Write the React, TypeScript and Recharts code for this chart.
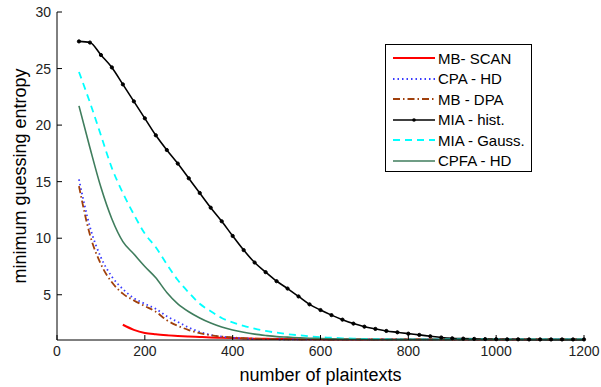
import { Line, LineChart, XAxis, YAxis, Label } from "recharts";

const xs = [
  50, 75, 100, 125, 150, 175, 200, 225, 250, 275, 300, 325, 350, 375, 400, 425,
  450, 475, 500, 525, 550, 575, 600, 625, 650, 675, 700, 725, 750, 775, 800,
  825, 850, 875, 900, 925, 950, 975, 1000, 1025, 1050, 1075, 1100, 1125, 1150,
  1175, 1200,
];

const mbScan = [
  null, null, null, null, 2.35, 1.9, 1.62, 1.5, 1.42, 1.36, 1.31, 1.27, 1.23,
  1.2, 1.17, 1.14, 1.12, 1.1, 1.09, 1.08, 1.07, 1.06, 1.06, 1.05, 1.05, 1.05,
  1.05, 1.05, 1.05, 1.05, 1.05, 1.05, 1.05, 1.05, 1.05, 1.05, 1.05, 1.05, 1.05,
  1.05, 1.05, 1.05, 1.05, 1.05, 1.05, 1.05, 1.05,
];

const cpaHd = [
  15.2, 11.0, 8.3, 6.6, 5.5, 4.7, 4.2, 3.75, 3.1, 2.6, 2.1, 1.72, 1.45, 1.3,
  1.2, 1.15, 1.1, 1.08, 1.07, 1.05, 1.05, 1.05, 1.05, 1.05, 1.05, 1.05, 1.05,
  1.05, 1.05, 1.05, 1.05, 1.05, 1.05, 1.05, 1.05, 1.05, 1.05, 1.05, 1.05, 1.05,
  1.05, 1.05, 1.05, 1.05, 1.05, 1.05, 1.05,
];

const mbDpa = [
  14.6, 10.3, 7.7, 6.1, 5.1, 4.5, 4.0, 3.5, 2.75, 2.25, 1.88, 1.6, 1.42, 1.3,
  1.22, 1.16, 1.12, 1.09, 1.07, 1.05, 1.05, 1.05, 1.05, 1.05, 1.05, 1.05, 1.05,
  1.05, 1.05, 1.05, 1.05, 1.05, 1.05, 1.05, 1.05, 1.05, 1.05, 1.05, 1.05, 1.05,
  1.05, 1.05, 1.05, 1.05, 1.05, 1.05, 1.05,
];

const miaHist = [
  27.4, 27.3, 26.2, 25.1, 23.6, 22.1, 20.6, 19.1, 17.8, 16.6, 15.3, 14.0, 12.7,
  11.5, 10.2, 8.95, 7.85, 7.0, 6.2, 5.55, 4.85, 4.15, 3.65, 3.2, 2.8, 2.45,
  2.18, 1.98, 1.8, 1.68, 1.56, 1.45, 1.33, 1.22, 1.15, 1.12, 1.1, 1.08, 1.07,
  1.06, 1.06, 1.05, 1.05, 1.05, 1.05, 1.05, 1.05,
];

const miaGauss = [
  24.7, 22.0, 19.1, 16.2, 14.0, 12.1, 10.4, 9.2, 7.7, 6.3, 5.2, 4.2, 3.55,
  2.95, 2.55, 2.25, 2.0, 1.8, 1.65, 1.52, 1.42, 1.33, 1.25, 1.2, 1.15, 1.12,
  1.1, 1.08, 1.07, 1.05, 1.05, 1.05, 1.05, 1.05, 1.05, 1.05, 1.05, 1.05, 1.05,
  1.05, 1.05, 1.05, 1.05, 1.05, 1.05, 1.05, 1.05,
];

const cpfaHd = [
  21.7, 18.0, 14.5, 11.7, 9.7, 8.6, 7.5, 6.5, 5.2, 4.2, 3.5, 2.95, 2.5, 2.15,
  1.88, 1.68, 1.52, 1.4, 1.3, 1.25, 1.2, 1.16, 1.13, 1.1, 1.08, 1.07, 1.06,
  1.04, 1.04, 1.04, 1.04, 1.04, 1.04, 1.04, 1.04, 1.04, 1.04, 1.04, 1.04, 1.04,
  1.04, 1.04, 1.04, 1.04, 1.04, 1.04, 1.04,
];

const xTicks = [0, 200, 400, 600, 800, 1000, 1200];
const yTicks = [5, 10, 15, 20, 25, 30];

const data = xs.map((x, i) => ({
  x,
  mbScan: mbScan[i],
  cpaHd: cpaHd[i],
  mbDpa: mbDpa[i],
  miaHist: miaHist[i],
  miaGauss: miaGauss[i],
  cpfaHd: cpfaHd[i],
}));

const series = [
  { key: "mbScan", name: "MB- SCAN", color: "#ff0000", width: 2, dash: undefined },
  { key: "cpaHd", name: "CPA - HD", color: "#3a3aff", width: 1.8, dash: "1.5 3" },
  { key: "mbDpa", name: "MB - DPA", color: "#a0400c", width: 1.8, dash: "7 3 1.5 3" },
  { key: "miaHist", name: "MIA - hist.", color: "#000000", width: 1.6, dash: undefined },
  { key: "miaGauss", name: "MIA - Gauss.", color: "#00ffff", width: 1.8, dash: "7 5" },
  { key: "cpfaHd", name: "CPFA - HD", color: "#3f7d5d", width: 1.6, dash: undefined },
];

const font = "Arial, 'Liberation Sans', sans-serif";

function ChartLegend() {
  return (
    <div
      style={{
        position: "absolute",
        left: 385,
        top: 44,
        width: 147,
        height: 128,
        border: "1px solid #000",
        background: "#fff",
        fontFamily: font,
        fontSize: 15,
        color: "#000",
        boxSizing: "border-box",
        paddingTop: 3,
      }}
    >
      {series.map((s) => (
        <div key={s.key} style={{ display: "flex", alignItems: "center", height: 20.5 }}>
          <svg width={48} height={10} style={{ marginLeft: 5 }}>
            <line
              x1={2}
              x2={44}
              y1={5}
              y2={5}
              stroke={s.color}
              strokeWidth={s.width}
              strokeDasharray={s.dash}
            />
            {s.key === "miaHist" && <circle cx={23} cy={5} r={1.8} fill="#000" />}
          </svg>
          <span style={{ marginLeft: -1 }}>{s.name}</span>
        </div>
      ))}
    </div>
  );
}

export default function App() {
  return (
    <div style={{ position: "fixed", left: 0, top: 0, width: 601, height: 387, background: "#fff" }}>
      <LineChart
        width={601}
        height={387}
        data={data}
        margin={{ top: 12, right: 17, bottom: 0, left: 0 }}
      >
        <XAxis
          dataKey="x"
          type="number"
          domain={[0, 1200]}
          ticks={xTicks}
          tickSize={-5}
          tickMargin={11}
          height={47}
          stroke="#000"
          tick={{ fill: "#222", fontSize: 14, fontFamily: font }}
          interval={0}
        >
          <Label
            value="number of plaintexts"
            position="insideBottom"
            offset={6}
            style={{ fill: "#000", fontSize: 18, fontFamily: font }}
          />
        </XAxis>
        <XAxis
          xAxisId="top"
          dataKey="x"
          type="number"
          orientation="top"
          domain={[0, 1200]}
          ticks={xTicks}
          tickSize={-5}
          height={0}
          tick={false}
          stroke="#000"
        />
        <YAxis
          type="number"
          domain={[1, 30]}
          ticks={yTicks}
          tickSize={-5}
          tickMargin={11}
          width={57}
          stroke="#000"
          tick={{ fill: "#222", fontSize: 14, fontFamily: font }}
          interval={0}
        >
          <Label
            value="minimum guessing entropy"
            angle={-90}
            position="insideLeft"
            offset={20}
            style={{ textAnchor: "middle", fill: "#000", fontSize: 18, fontFamily: font }}
          />
        </YAxis>
        <YAxis
          yAxisId="right"
          type="number"
          orientation="right"
          domain={[1, 30]}
          ticks={yTicks}
          tickSize={-5}
          width={0}
          tick={false}
          stroke="#000"
        />
        {series.map((s) => (
          <Line
            key={s.key}
            dataKey={s.key}
            name={s.name}
            type="monotone"
            stroke={s.color}
            strokeWidth={s.width}
            strokeDasharray={s.dash}
            dot={s.key === "miaHist" ? { r: 1.6, fill: "#000", stroke: "#000", strokeWidth: 1 } : false}
            isAnimationActive={false}
            connectNulls={false}
          />
        ))}
      </LineChart>
      <ChartLegend />
    </div>
  );
}
